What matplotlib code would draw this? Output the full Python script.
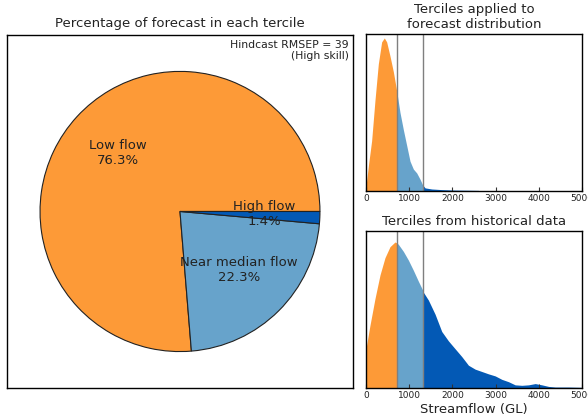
"""Tercile forecast summary: pie of tercile probabilities plus density panels."""

import matplotlib
matplotlib.use("Agg")
import matplotlib.pyplot as plt
import numpy as np

# tercile categories and forecast probabilities (%)
categories = ["Low flow", "Near median flow", "High flow"]
percentages = [76.3, 22.3, 1.4]
colours = ["#fd9a37", "#67a3cb", "#0359b5"]
skill_text = "Hindcast RMSEP = 39\n(High skill)"

# tercile boundaries (GL)
tercile_bounds = [710, 1310]

# forecast density (relative units)
fc_flow = [0, 60, 131, 209, 286, 363, 425, 479, 556, 634, 710, 788, 866,
           943, 1020, 1097, 1175, 1252, 1310, 1368, 1522, 1754, 2063, 2372,
           2604, 2643]
fc_dens = [0.03, 0.17, 0.32, 0.58, 0.81, 0.95, 0.975, 0.95, 0.86, 0.76, 0.64,
           0.50, 0.39, 0.29, 0.19, 0.14, 0.115, 0.075, 0.04, 0.02, 0.013,
           0.009, 0.006, 0.005, 0.004, 0.0]

# historical (climatology) density (relative units)
hist_flow = [0, 93, 209, 325, 440, 556, 672, 710, 750, 866, 981, 1097, 1213,
             1310, 1329, 1445, 1600, 1754, 1909, 2063, 2218, 2372, 2527, 2682,
             2836, 2991, 3145, 3300, 3454, 3609, 3763, 3918, 4072, 4227, 4382,
             4691, 5000]
hist_dens = [0.25, 0.40, 0.57, 0.72, 0.83, 0.90, 0.93, 0.925, 0.915, 0.87,
             0.815, 0.75, 0.68, 0.625, 0.61, 0.56, 0.47, 0.36, 0.30, 0.25,
             0.20, 0.145, 0.12, 0.105, 0.09, 0.077, 0.055, 0.04, 0.02, 0.017,
             0.02, 0.028, 0.02, 0.01, 0.006, 0.006, 0.004]

flow_ticks = [0, 1000, 2000, 3000, 4000, 5000]


def density_panel(ax, flow, dens, title):
    x = np.asarray(flow, dtype=float)
    y = np.asarray(dens, dtype=float)
    lo, hi = tercile_bounds
    ax.fill_between(x, 0, y, where=x <= lo, color=colours[0], lw=0)
    ax.fill_between(x, 0, y, where=(x >= lo) & (x <= hi), color=colours[1], lw=0)
    ax.fill_between(x, 0, y, where=x >= hi, color=colours[2], lw=0)
    for b in tercile_bounds:
        ax.axvline(b, color="#7f7f7f", lw=1)
    ax.set_xlim(0, 5000)
    ax.set_ylim(0, 1)
    ax.set_yticks([])
    ax.set_xticks(flow_ticks)
    ax.tick_params(axis="x", direction="in", length=3, labelsize=6.5, pad=2,
                   colors="#333333", labelcolor="#222222")
    ax.set_title(title, fontsize=9.5, color="#222222", pad=4)
    for s in ax.spines.values():
        s.set_linewidth(1)


fig = plt.figure(figsize=(5.88, 4.18), dpi=100)

# pie of tercile probabilities
ax_pie = fig.add_axes([0.0119, 0.0718, 0.5884, 0.8445])
wedges, _ = ax_pie.pie(percentages, colors=colours, startangle=0,
                       counterclock=True,
                       wedgeprops=dict(edgecolor="#222222", linewidth=0.8))
for w, name, pct in zip(wedges, categories, percentages):
    mid = np.deg2rad(0.5 * (w.theta1 + w.theta2))
    ax_pie.text(0.6 * np.cos(mid), 0.6 * np.sin(mid) + 0.01,
                f"{name}\n{pct:.1f}%",
                ha="center", va="center", fontsize=9.5, color="#222222")
ax_pie.set_aspect("equal", adjustable="datalim")
ax_pie.set_xlim(-1.236, 1.236)
ax_pie.set_ylim(-1.26, 1.26)
ax_pie.set_frame_on(True)
ax_pie.set_xticks([])
ax_pie.set_yticks([])
for s in ax_pie.spines.values():
    s.set_linewidth(1)
ax_pie.set_title("Percentage of forecast in each tercile", fontsize=9.5,
                 color="#222222", pad=6)
ax_pie.text(0.988, 0.985, skill_text, transform=ax_pie.transAxes,
            ha="right", va="top", fontsize=7.8, color="#222222",
            linespacing=1.1)

ax_fc = fig.add_axes([0.6224, 0.543, 0.3673, 0.3756])
density_panel(ax_fc, fc_flow, fc_dens,
              "Terciles applied to\nforecast distribution")

ax_hist = fig.add_axes([0.6224, 0.0718, 0.3673, 0.3756])
density_panel(ax_hist, hist_flow, hist_dens, "Terciles from historical data")
ax_hist.set_xlabel("Streamflow (GL)", fontsize=9.5, color="#222222", labelpad=2)

fig.savefig("out.png", dpi=100)
